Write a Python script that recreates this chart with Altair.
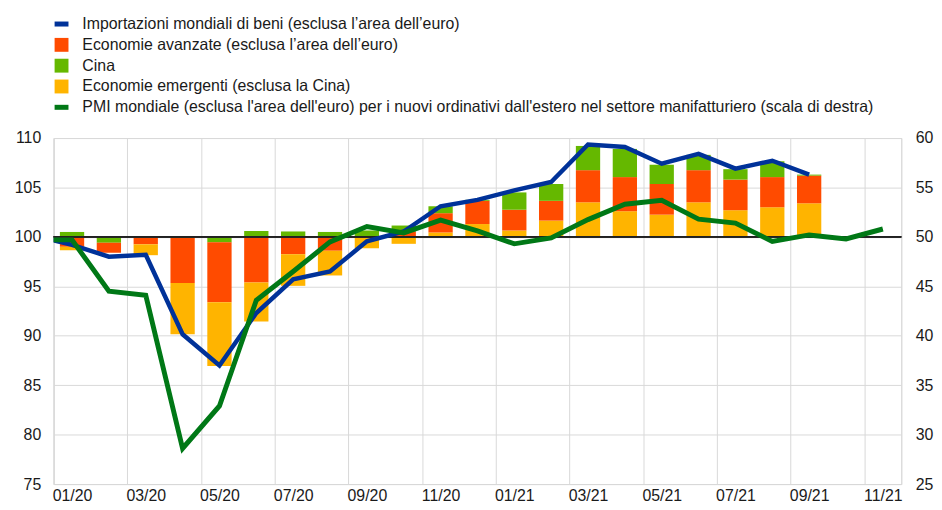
import json
import altair as alt
import pandas as pd

# ---------------- data ----------------
months = ["01/20", "02/20", "03/20", "04/20", "05/20", "06/20", "07/20", "08/20",
          "09/20", "10/20", "11/20", "12/20", "01/21", "02/21", "03/21", "04/21",
          "05/21", "06/21", "07/21", "08/21", "09/21", "10/21", "11/21"]

# contributions (percentage points relative to 100), 01/20 .. 09/21
emergenti = [-0.35, 0.0, -1.1, -5.2, -6.45, -3.95, -3.2, -2.5, -1.1, -0.7, 0.45,
             1.3, 0.65, 1.65, 3.5, 2.6, 2.25, 3.5, 2.7, 3.0, 3.4]
avanzate = [-1.0, -1.0, -0.7, -4.55, -6.05, -4.6, -1.75, -1.4, -0.05, 0.55, 1.95,
            2.35, 2.1, 2.0, 3.25, 3.45, 3.1, 3.25, 3.1, 3.05, 2.8]
cina = [0.5, -0.6, -0.05, -0.1, -0.55, 0.6, 0.55, 0.5, 0.65, 0.6, 0.7,
        0.1, 1.75, 1.7, 2.45, 2.85, 1.95, 1.55, 1.05, 1.6, 0.1]

# world goods imports index, 12/19 .. 09/21
imp_months = ["12/19"] + months[:21]
importazioni = [100.1, 99.2, 98.0, 98.2, 90.15, 87.0, 92.3, 95.7, 96.5, 99.55,
                100.55, 103.1, 103.75, 104.7, 105.55, 109.35, 109.1, 107.4,
                108.4, 106.9, 107.7, 106.3]

# PMI new export orders, 12/19 .. 11/21
pmi_months = ["12/19"] + months
pmi = [49.7, 49.7, 44.5, 44.1, 28.6, 32.9, 43.6, 46.5, 49.5, 51.05, 50.4, 51.7,
       50.6, 49.3, 49.9, 51.75, 53.3, 53.7, 51.8, 51.4, 49.55, 50.2, 49.8, 50.8]

series = [
    "Importazioni mondiali di beni (esclusa l\u2019area dell\u2019euro)",
    "Economie avanzate (esclusa l\u2019area dell\u2019euro)",
    "Cina",
    "Economie emergenti (esclusa la Cina)",
    "PMI mondiale (esclusa l'area dell'euro) per i nuovi ordinativi dall'estero "
    "nel settore manifatturiero (scala di destra)",
]
colors = ["#003299", "#FF4B00", "#65B800", "#FFB400", "#007816"]
line_shape = "M-1,-0.36H1V0.36H-1Z"
square_shape = "M-1,-1H1V1H-1Z"
shapes = [line_shape, square_shape, square_shape, square_shape, line_shape]

FONT = "Liberation Sans"
FS = 16
TXT = "#1a1a1a"
GRID = "#d9d9d9"

# ---------------- tables ----------------
def idx_of(m):
    return -1 if m == "12/19" else months.index(m)

bar_rows = []
contrib = {series[3]: emergenti, series[1]: avanzate, series[2]: cina}
pos_order = [series[3], series[1], series[2]]
neg_order = [series[2], series[1], series[3]]
for i in range(len(emergenti)):
    base = 100.0
    for s in pos_order:
        v = contrib[s][i]
        if v > 0:
            bar_rows.append({"idx": i, "series": s, "y": base, "y2": base + v})
            base += v
    base = 100.0
    for s in neg_order:
        v = contrib[s][i]
        if v < 0:
            bar_rows.append({"idx": i, "series": s, "y": base, "y2": base + v})
            base += v
bars_df = pd.DataFrame(bar_rows)

imp_df = pd.DataFrame({"idx": [idx_of(m) for m in imp_months], "v": importazioni})
pmi_df = pd.DataFrame({"idx": [idx_of(m) for m in pmi_months], "v": pmi})
legend_df = pd.DataFrame({"series": series})

# ---------------- scales / axes ----------------
label_expr = json.dumps(months) + "[round(datum.value + 0.5)]"
x_scale = alt.Scale(domain=[-0.5, 22.5], nice=False, zero=False, padding=0)
x_axis = alt.Axis(
    values=[-0.5 + 2 * k for k in range(12)], labelExpr=label_expr,
    labelOffset=18.6, labelFlush=False, labelOverlap=False, ticks=False,
    grid=True, gridColor=GRID, gridWidth=1, domainColor=GRID, domainWidth=1,
    labelFont=FONT, labelFontSize=FS, labelColor=TXT, labelPadding=4, title=None,
)
X = alt.X("idx:Q", scale=x_scale, axis=x_axis)

y_left_scale = alt.Scale(domain=[75, 110], nice=False, zero=False, padding=0)
y_left_axis = alt.Axis(
    values=list(range(75, 111, 5)), ticks=False, grid=True, gridColor=GRID,
    gridWidth=1, domainColor=GRID, labelFont=FONT, labelFontSize=FS,
    labelColor=TXT, labelPadding=13, title=None,
)
y_right_scale = alt.Scale(domain=[25, 60], nice=False, zero=False, padding=0)
y_right_axis = alt.Axis(
    orient="right", values=list(range(25, 61, 5)), ticks=False, grid=False,
    domainColor=GRID, labelFont=FONT, labelFontSize=FS, labelColor=TXT,
    labelPadding=14, title=None,
)

color_scale = alt.Scale(domain=series, range=colors)
shape_scale = alt.Scale(domain=series, range=shapes)
legend = alt.Legend(
    title=None, orient="none", legendX=0, legendY=-123, direction="vertical",
    symbolSize=196, symbolStrokeWidth=0, symbolOpacity=1,
    labelFont=FONT, labelFontSize=FS, labelColor=TXT, labelOffset=13,
    rowPadding=5.0, labelLimit=900,
)

# ---------------- layers ----------------
legend_pts = alt.Chart(legend_df).mark_point(filled=True, opacity=0).encode(
    color=alt.Color("series:N", scale=color_scale, legend=legend),
    shape=alt.Shape("series:N", scale=shape_scale, legend=legend),
)

bars = alt.Chart(bars_df).mark_bar(size=24.5).encode(
    x=X,
    y=alt.Y("y:Q", scale=y_left_scale, axis=y_left_axis),
    y2="y2:Q",
    color=alt.Color("series:N", scale=color_scale, legend=legend),
)

base_rule = alt.Chart(legend_df).mark_rule(color="#222222", strokeWidth=1.3).encode(
    y=alt.Y(datum=100)
)

imp_line = alt.Chart(imp_df).mark_line(color=colors[0], strokeWidth=4.5, clip=True).encode(
    x=alt.X("idx:Q", scale=x_scale),
    y=alt.Y("v:Q", scale=y_left_scale),
)

left = alt.layer(legend_pts, bars, base_rule, imp_line)

pmi_line = alt.Chart(pmi_df).mark_line(color=colors[4], strokeWidth=5, clip=True).encode(
    x=alt.X("idx:Q", scale=x_scale),
    y=alt.Y("v:Q", scale=y_right_scale, axis=y_right_axis),
)

chart = alt.layer(left, pmi_line).resolve_scale(y="independent").properties(
    width=855, height=349,
    autosize=alt.AutoSizeParams(type="none"),
    padding={"left": 46, "top": 129, "right": 33, "bottom": 24},
).configure_view(stroke=None).configure(background="white")

chart.save("out.html", embed_options={"renderer": "svg", "actions": False})
